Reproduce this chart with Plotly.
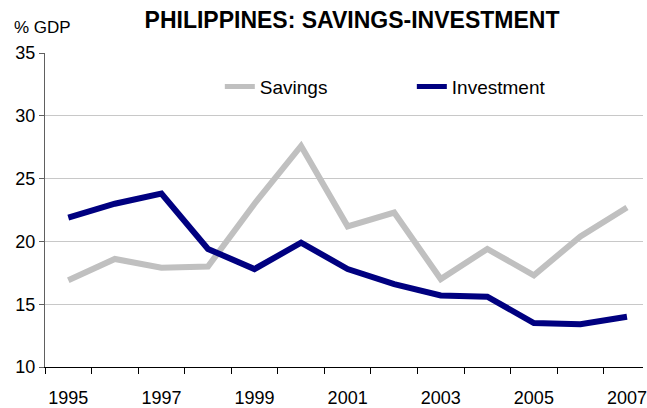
import plotly.graph_objects as go

years = list(range(1995, 2008))
savings = [16.9, 18.6, 17.9, 18.0, 23.0, 27.6, 21.2, 22.3, 17.0, 19.4, 17.3, 20.4, 22.7]
investment = [21.9, 23.0, 23.8, 19.4, 17.8, 19.9, 17.8, 16.6, 15.7, 15.6, 13.5, 13.4, 14.0]
label_years = years[::2]
y_ticks = [10, 15, 20, 25, 30, 35]

FONT = "Liberation Sans, Arial, sans-serif"

fig = go.Figure()
fig.add_trace(go.Scatter(x=years, y=savings, mode="lines", name="Savings",
                         line=dict(color="#c0c0c0", width=6)))
fig.add_trace(go.Scatter(x=years, y=investment, mode="lines", name="Investment",
                         line=dict(color="#000080", width=6)))

boundaries = [y - 0.5 for y in years] + [years[-1] + 0.5]

fig.update_layout(
    width=647, height=408,
    margin=dict(l=45, r=0, t=53, b=40),
    paper_bgcolor="white", plot_bgcolor="white",
    font=dict(family=FONT, size=17, color="#000"),
    title=dict(text="<b>PHILIPPINES: SAVINGS-INVESTMENT</b>",
               font=dict(family=FONT, size=23, color="#000"),
               xref="container", x=352/647, xanchor="center",
               yref="container", y=1 - 20/408, yanchor="middle"),
    showlegend=True,
    legend=dict(orientation="h", x=(221 - 45) / 602, xanchor="left",
                y=1 - (87 - 53.3) / 315, yanchor="middle",
                font=dict(family=FONT, size=19, color="#000"),
                bgcolor="rgba(0,0,0,0)", entrywidth=147, entrywidthmode="pixels",
                itemsizing="constant"),
    xaxis=dict(range=[1994.5, 1994.5 + 602 / 46.87], tickmode="array",
               tickvals=label_years, ticktext=[str(y) for y in label_years],
               ticks="outside", ticklen=14, tickcolor="rgba(0,0,0,0)",
               ticklabeloverflow="allow",
               showgrid=False, zeroline=False, showline=True, linecolor="#000", linewidth=1,
               tickfont=dict(size=18),
               minor=dict(tickmode="array", tickvals=boundaries, ticks="outside",
                          ticklen=6, tickcolor="#000", tickwidth=1, showgrid=False)),
    yaxis=dict(range=[10, 35], tickmode="array", tickvals=y_ticks,
               ticks="outside", ticklen=5, tickcolor="#606060",
               showgrid=True, gridcolor="#c8c8c8", gridwidth=1,
               zeroline=False, showline=True, linecolor="#606060", linewidth=1,
               tickfont=dict(size=18)),
    annotations=[dict(text="% GDP", xref="paper", yref="paper",
                      x=-45/602, xanchor="left", y=1 + (53.3 - 28) / 315, yanchor="middle",
                      xshift=12, showarrow=False, font=dict(family=FONT, size=17, color="#000"))],
)

fig.write_html("out.html",
               config={"displayModeBar": False, "responsive": False},
               post_script="document.body.style.margin='0';document.body.style.overflow='hidden';")
